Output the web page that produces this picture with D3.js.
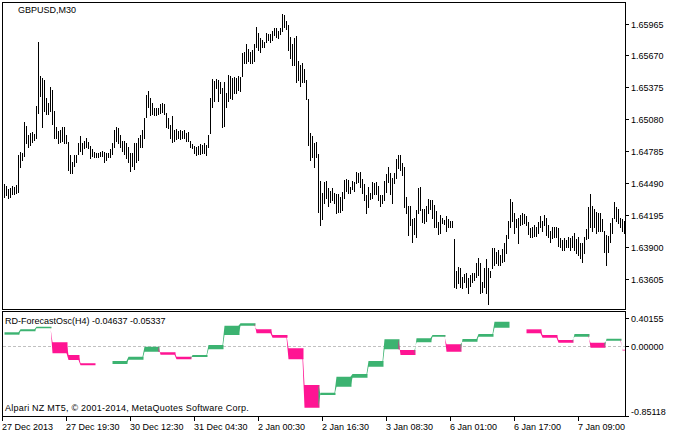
<!DOCTYPE html>
<html><head><meta charset="utf-8">
<script src="https://cdn.jsdelivr.net/npm/d3@7"></script>
<style>
html,body{margin:0;padding:0;background:#fff}
svg{display:block}
text{font-family:"Liberation Sans",Arial,sans-serif;font-size:9px;fill:#000}
</style>
</head><body>
<svg id="chart" width="678" height="437"></svg>
<script>
// ---------- DATA ----------
const symbolTitle = "GBPUSD,M30";
const indicatorName = "RD-ForecastOsc(H4)";
const copyrightText = "Alpari NZ MT5, \u00A9 2001-2014, MetaQuotes Software Corp.";

// M30 bars: high / low
const barHigh = [
1.6448,1.6446,1.6443,1.6444,1.6446,1.6445,1.6447,1.6475,1.6478,1.6477,
1.6505,1.6502,1.6493,1.6495,1.6496,1.6494,1.6520,1.6579,1.6548,1.6546,
1.6544,1.6528,1.6523,1.6538,1.6535,1.6516,1.6501,1.6497,1.6498,1.6501,
1.6501,1.6493,1.6487,1.6475,1.6468,1.6475,1.6475,1.6486,1.6492,1.6486,
1.6488,1.6491,1.6487,1.6483,1.6480,1.6478,1.6477,1.6477,1.6478,1.6479,
1.6478,1.6477,1.6477,1.6480,1.6486,1.6498,1.6501,1.6500,1.6493,1.6488,
1.6488,1.6486,1.6482,1.6477,1.6477,1.6486,1.6486,1.6491,1.6493,1.6498,
1.6509,1.6530,1.6534,1.6528,1.6523,1.6518,1.6518,1.6518,1.6522,1.6523,
1.6522,1.6514,1.6509,1.6503,1.6511,1.6498,1.6499,1.6497,1.6498,1.6497,
1.6498,1.6495,1.6496,1.6488,1.6485,1.6483,1.6482,1.6483,1.6485,1.6484,
1.6486,1.6484,1.6493,1.6528,1.6545,1.6543,1.6545,1.6544,1.6542,1.6537,
1.6542,1.6532,1.6549,1.6548,1.6546,1.6547,1.6546,1.6548,1.6547,1.6569,
1.6570,1.6578,1.6573,1.6570,1.6572,1.6578,1.6593,1.6588,1.6583,1.6581,
1.6579,1.6588,1.6587,1.6587,1.6590,1.6592,1.6592,1.6590,1.6592,1.6605,
1.6604,1.6599,1.6595,1.6584,1.6578,1.6583,1.6585,1.6562,1.6558,1.6560,
1.6554,1.6544,1.6527,1.6495,1.6492,1.6486,1.6487,1.6476,1.6451,1.6440,
1.6450,1.6451,1.6444,1.6442,1.6444,1.6440,1.6439,1.6439,1.6436,1.6441,
1.6452,1.6453,1.6452,1.6445,1.6451,1.6450,1.6459,1.6458,1.6459,1.6453,
1.6448,1.6438,1.6445,1.6440,1.6450,1.6449,1.6450,1.6446,1.6438,1.6438,
1.6451,1.6457,1.6464,1.6458,1.6454,1.6458,1.6471,1.6475,1.6475,1.6467,
1.6464,1.6436,1.6428,1.6428,1.6416,1.6417,1.6424,1.6444,1.6445,1.6425,
1.6425,1.6428,1.6434,1.6433,1.6433,1.6429,1.6423,1.6413,1.6419,1.6417,
1.6415,1.6418,1.6416,1.6414,1.6414,1.6397,1.6368,1.6371,1.6370,1.6362,
1.6365,1.6366,1.6361,1.6364,1.6366,1.6366,1.6375,1.6380,1.6375,1.6357,
1.6370,1.6379,1.6370,1.6368,1.6389,1.6389,1.6385,1.6387,1.6382,1.6388,
1.6393,1.6401,1.6414,1.6434,1.6431,1.6421,1.6416,1.6417,1.6419,1.6421,
1.6420,1.6418,1.6413,1.6407,1.6408,1.6410,1.6408,1.6413,1.6418,1.6414,
1.6419,1.6417,1.6410,1.6405,1.6408,1.6408,1.6408,1.6407,1.6398,1.6396,
1.6398,1.6396,1.6399,1.6398,1.6400,1.6403,1.6397,1.6399,1.6393,1.6393,
1.6399,1.6406,1.6427,1.6439,1.6428,1.6425,1.6422,1.6421,1.6421,1.6416,
1.6405,1.6401,1.6400,1.6412,1.6417,1.6431,1.6427,1.6425,1.6417,1.6416,
1.6414];
const barLow = [
1.6436,1.6438,1.6435,1.6436,1.6439,1.6439,1.6440,1.6441,1.6464,1.6470,
1.6474,1.6486,1.6482,1.6484,1.6487,1.6489,1.6491,1.6514,1.6529,1.6501,
1.6516,1.6513,1.6513,1.6516,1.6504,1.6491,1.6491,1.6486,1.6487,1.6488,
1.6486,1.6486,1.6461,1.6458,1.6458,1.6465,1.6468,1.6476,1.6479,1.6476,
1.6481,1.6482,1.6481,1.6472,1.6474,1.6473,1.6473,1.6473,1.6474,1.6474,
1.6468,1.6470,1.6473,1.6473,1.6476,1.6482,1.6488,1.6486,1.6482,1.6479,
1.6476,1.6472,1.6468,1.6460,1.6465,1.6462,1.6468,1.6470,1.6482,1.6482,
1.6491,1.6510,1.6519,1.6512,1.6513,1.6512,1.6512,1.6513,1.6514,1.6515,
1.6513,1.6501,1.6500,1.6491,1.6487,1.6488,1.6490,1.6491,1.6490,1.6491,
1.6491,1.6488,1.6488,1.6482,1.6481,1.6477,1.6475,1.6476,1.6476,1.6477,
1.6477,1.6475,1.6482,1.6495,1.6519,1.6525,1.6537,1.6525,1.6532,1.6501,
1.6502,1.6519,1.6525,1.6528,1.6527,1.6532,1.6532,1.6535,1.6534,1.6548,
1.6560,1.6560,1.6562,1.6560,1.6560,1.6562,1.6575,1.6572,1.6570,1.6575,
1.6575,1.6579,1.6581,1.6579,1.6581,1.6586,1.6584,1.6583,1.6587,1.6590,
1.6593,1.6591,1.6572,1.6565,1.6558,1.6558,1.6542,1.6544,1.6539,1.6542,
1.6542,1.6527,1.6484,1.6470,1.6473,1.6464,1.6473,1.6422,1.6410,1.6416,
1.6430,1.6435,1.6428,1.6431,1.6433,1.6430,1.6421,1.6422,1.6422,1.6424,
1.6435,1.6442,1.6440,1.6440,1.6443,1.6442,1.6449,1.6450,1.6445,1.6440,
1.6433,1.6421,1.6427,1.6434,1.6435,1.6439,1.6439,1.6433,1.6428,1.6430,
1.6433,1.6441,1.6450,1.6439,1.6430,1.6449,1.6454,1.6463,1.6461,1.6456,
1.6427,1.6421,1.6401,1.6410,1.6394,1.6402,1.6399,1.6421,1.6424,1.6413,
1.6412,1.6414,1.6421,1.6425,1.6417,1.6408,1.6408,1.6402,1.6403,1.6412,
1.6411,1.6405,1.6408,1.6408,1.6408,1.6353,1.6352,1.6356,1.6353,1.6352,
1.6357,1.6353,1.6347,1.6354,1.6357,1.6359,1.6362,1.6364,1.6347,1.6348,
1.6353,1.6347,1.6337,1.6362,1.6370,1.6373,1.6375,1.6373,1.6373,1.6376,
1.6377,1.6384,1.6398,1.6408,1.6414,1.6403,1.6408,1.6393,1.6410,1.6411,
1.6412,1.6410,1.6402,1.6399,1.6399,1.6400,1.6400,1.6403,1.6408,1.6405,
1.6410,1.6401,1.6399,1.6394,1.6398,1.6399,1.6399,1.6391,1.6390,1.6387,
1.6387,1.6390,1.6390,1.6387,1.6390,1.6387,1.6384,1.6382,1.6380,1.6376,
1.6384,1.6397,1.6398,1.6408,1.6405,1.6408,1.6403,1.6405,1.6405,1.6405,
1.6385,1.6373,1.6385,1.6394,1.6403,1.6417,1.6414,1.6412,1.6408,1.6405,
1.6403];

const priceMin = 1.63324, priceMax = 1.66164;
const priceTicks = [1.65965,1.65670,1.65375,1.65080,1.64785,1.64490,1.64195,1.63900,1.63605];

const timeTickBars = [0,31,63,95,127,159,191,223,255,287];
const timeTickLabels = ["27 Dec 2013","27 Dec 19:30","30 Dec 12:30","31 Dec 04:30","2 Jan 00:30",
  "2 Jan 16:30","3 Jan 08:30","6 Jan 01:00","6 Jan 17:00","7 Jan 09:00"];

// H4 indicator: first M30 bar of each H4 period, oscillator and forecast values
const h4Start = [0,8,16,24,32,38,46,54,62,70,78,86,94,102,110,118,126,134,142,150,
  158,166,174,182,190,198,206,214,221,229,237,245,253,261,269,277,285,293,301,309];
const h4Osc = [0.138,0.179,0.216,0.045,-0.109,-0.210,null,-0.219,-0.166,-0.069,
  -0.076,-0.130,-0.134,-0.040,0.134,0.247,0.203,0.134,-0.028,-0.474,
  -0.596,-0.495,-0.385,-0.252,-0.040,-0.049,0.045,0.113,0.021,0.053,
  0.113,0.223,null,0.203,0.134,0.073,0.113,0.040,0.065,-0.04637];
const h4Forecast = [0.167,0.203,0.235,-0.089,-0.170,-0.235,null,-0.182,-0.130,-0.008,
  -0.106,-0.162,-0.109,0.012,0.247,0.276,0.155,0.101,-0.162,-0.750,
  -0.568,-0.373,-0.340,-0.182,0.082,-0.109,0.094,0.134,-0.069,0.085,
  0.146,0.296,null,0.155,0.101,0.040,0.146,-0.021,0.089,-0.05337];
const oscMin = -0.85118, oscMax = 0.40155;
const oscTicks = [0.40155, 0.00000, -0.85118];

// ---------- DRAW ----------
const svg = d3.select("#chart");
const nBars = barHigh.length;
const L = 2, R = 625, mainTop = 2, mainBot = 309, subTop = 311, subBot = 416;

const x = d3.scaleLinear().domain([0, nBars - 1]).range([4, 624]);
const yMain = d3.scaleLinear().domain([priceMin, priceMax]).range([mainBot, mainTop]);
const ySub = d3.scaleLinear().domain([oscMin, oscMax]).range([subBot, subTop + 2]);

// price bars
svg.append("g").attr("shape-rendering", "crispEdges")
  .selectAll("line").data(d3.range(nBars)).join("line")
  .attr("x1", i => x(i) + 0.5).attr("x2", i => x(i) + 0.5)
  .attr("y1", i => Math.round(yMain(barHigh[i])))
  .attr("y2", i => Math.round(yMain(barLow[i])) + 1)
  .attr("stroke", "#000").attr("stroke-width", 1);

// zero line
svg.append("line")
  .attr("x1", L + 1).attr("x2", R)
  .attr("y1", Math.round(ySub(0)) + 0.5).attr("y2", Math.round(ySub(0)) + 0.5)
  .attr("stroke", "#c0c0c0").attr("stroke-dasharray", "3,2")
  .attr("shape-rendering", "crispEdges");

// indicator fills
const segs = h4Start.map((s, k) => ({
  start: s,
  end: k < h4Start.length - 1 ? h4Start[k + 1] - 1 : nBars - 1,
  osc: h4Osc[k], fc: h4Forecast[k], k
}));
const area = d3.area()
  .x(p => x(p.i) + 0.5)
  .y0(p => ySub(p.osc))
  .y1(p => ySub(p.fc));
const gInd = svg.append("g");
segs.forEach((sg, k) => {
  if (sg.osc === null) return;
  const pts = [];
  const prev = k > 0 ? segs[k - 1] : null;
  if (prev && prev.osc !== null) pts.push({ i: sg.start - 1, osc: prev.osc, fc: prev.fc });
  pts.push({ i: sg.start, osc: sg.osc, fc: sg.fc });
  pts.push({ i: sg.end, osc: sg.osc, fc: sg.fc });
  pts.push({ i: sg.end + 0.5, osc: sg.osc, fc: sg.fc });
  gInd.append("path").attr("d", area(pts))
    .attr("fill", sg.fc > sg.osc ? "#3cb371" : "#ff1493");
});

// frames
const frame = svg.append("g").attr("fill", "none").attr("stroke", "#000")
  .attr("shape-rendering", "crispEdges");
frame.append("rect").attr("x", L + 0.5).attr("y", mainTop + 0.5)
  .attr("width", R - L).attr("height", mainBot - mainTop);
frame.append("rect").attr("x", L + 0.5).attr("y", subTop + 0.5)
  .attr("width", R - L).attr("height", subBot - subTop);

// price axis
const pAxis = svg.append("g");
priceTicks.forEach(t => {
  const yy = Math.round(yMain(t));
  pAxis.append("line").attr("x1", R + 1).attr("x2", R + 4)
    .attr("y1", yy + 0.5).attr("y2", yy + 0.5).attr("stroke", "#000")
    .attr("shape-rendering", "crispEdges");
  pAxis.append("text").attr("x", R + 6).attr("y", yy + 3.5).text(t.toFixed(5));
});

// oscillator axis
oscTicks.forEach(t => {
  const yy = Math.round(Math.max(subTop + 7, ySub(t)));
  const ly = Math.min(yy, subBot - 5);
  pAxis.append("line").attr("x1", R + 1).attr("x2", R + 4)
    .attr("y1", yy + 0.5).attr("y2", yy + 0.5).attr("stroke", "#000")
    .attr("shape-rendering", "crispEdges");
  pAxis.append("text").attr("x", R + 6).attr("y", ly + 3.5).text(t.toFixed(5));
});

// time axis
timeTickBars.forEach((b, j) => {
  const xx = j === 0 ? L : x(b);
  pAxis.append("line").attr("x1", xx + 0.5).attr("x2", xx + 0.5)
    .attr("y1", subBot + 1).attr("y2", subBot + 5).attr("stroke", "#000")
    .attr("shape-rendering", "crispEdges");
  pAxis.append("text").attr("x", xx).attr("y", 430).text(timeTickLabels[j]);
});

// titles
svg.append("text").attr("x", 18).attr("y", 13).text(symbolTitle);
const lastK = h4Osc.length - 1;
svg.append("text").attr("x", 5).attr("y", 324)
  .text(indicatorName + " " + h4Osc[lastK].toFixed(5) + " " + h4Forecast[lastK].toFixed(5));
svg.append("text").attr("x", 5).attr("y", 411).attr("letter-spacing", "0.23px").text(copyrightText);
</script>
</body></html>
